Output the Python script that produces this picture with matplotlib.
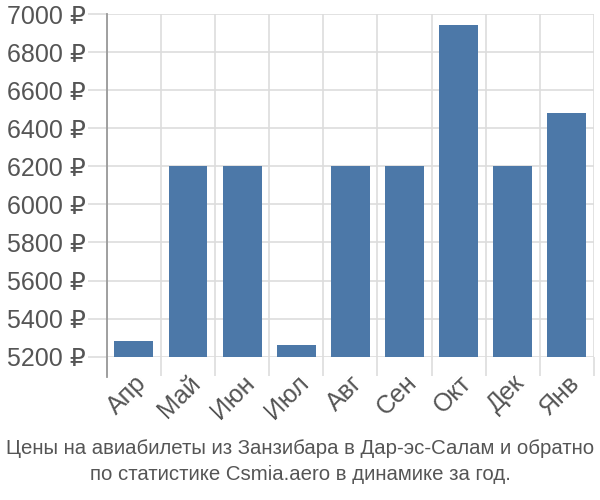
import matplotlib
matplotlib.use("Agg")
import matplotlib.pyplot as plt
import numpy as np

plt.rcParams['font.family'] = ['Liberation Sans', 'DejaVu Sans']

months = ["Апр", "Май", "Июн", "Июл", "Авг", "Сен", "Окт", "Дек", "Янв"]
prices = [5284, 6203, 6203, 5261, 6203, 6203, 6942, 6203, 6479]
y_ticks = list(range(5200, 7001, 200))
title = "Цены на авиабилеты из Занзибара в Дар-эс-Салам и обратно\nпо статистике Csmia.aero в динамике за год."

fig = plt.figure(figsize=(6, 5), dpi=100)
ax = fig.add_axes([0.178, 0.2866, 0.812, 0.6854])

x = np.arange(len(months))
ax.bar(x, prices, width=0.72, color="#4c78a8", zorder=3)

ax.set_xlim(-0.5, len(months) - 0.5)
ax.set_ylim(5200, 7000)

ax.set_yticks(y_ticks)
ax.set_yticklabels([f"{v} ₽" for v in y_ticks])
ax.tick_params(axis="y", length=14, width=1.2, color="#dddddd", labelsize=18,
               labelcolor="#555555", pad=1)
ax.grid(axis="y", color="#dddddd", linewidth=1.2, zorder=0)

ax.set_xticks(x)
ax.set_xticklabels(months, rotation=45, ha="right", rotation_mode="anchor")
ax.tick_params(axis="x", which="major", length=0, labelsize=18,
               labelcolor="#555555", pad=10)
ax.set_xticks(np.arange(-0.5, len(months)), minor=True)
ax.tick_params(axis="x", which="minor", length=14, width=1.2, color="#dddddd")
ax.grid(axis="x", which="minor", color="#dddddd", linewidth=1.2, zorder=0)

for side in ["top", "right", "bottom", "left"]:
    ax.spines[side].set_visible(False)
# left axis line, running down past the plot like the ticks
ax.axvline(-0.5, ymin=-0.058, ymax=1, color="#999999", linewidth=1.3,
           clip_on=False, zorder=4)

fig.text(0.5, 0.032, title, ha="center", va="bottom", fontsize=14.7,
         color="#555555", linespacing=1.5)

fig.savefig("out.png", dpi=100)
